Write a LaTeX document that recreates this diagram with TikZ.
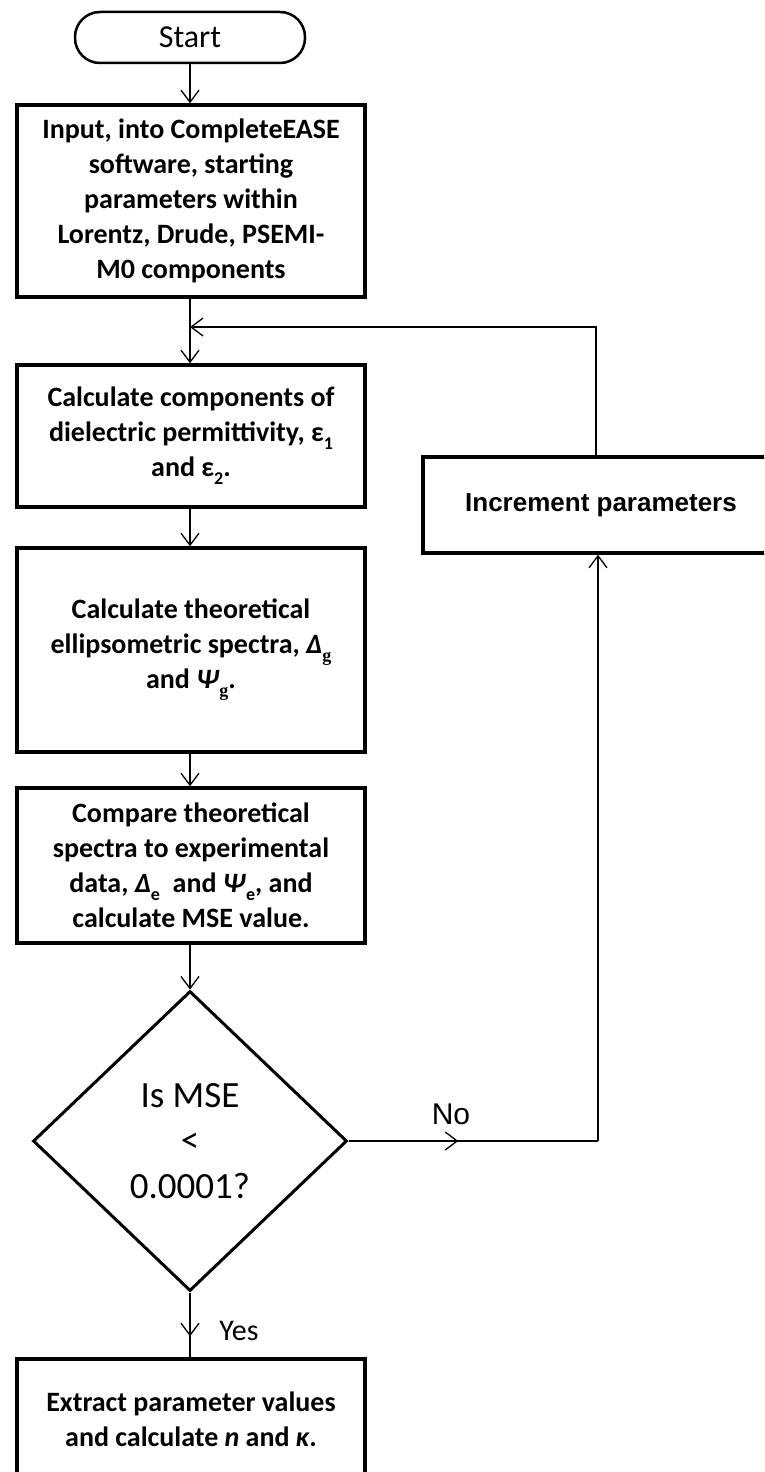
\documentclass[tikz,border=0pt]{standalone}
\usepackage{fontspec}
\setmainfont{Carlito}
\newfontfamily\arialf{Liberation Sans}
\newfontfamily\serifb{Liberation Serif}
\usetikzlibrary{arrows.meta,shapes.geometric,decorations.markings}
\newcommand{\lowsub}[1]{\raisebox{-0.28em}{\fontsize{18}{18}\selectfont #1}}
\newcommand{\gsub}{\lowsub{\serifb\bfseries g}}
\begin{document}
\begin{tikzpicture}[x=1pt,y=-1pt,
  box/.style={draw, line width=3.5pt, minimum width=348pt, align=center, inner sep=0pt,
    font=\fontsize{28}{35}\selectfont\bfseries},
  conn/.style={line width=1.3pt},
  arr/.style={conn, -{Straight Barb[length=12pt,width=18pt,line width=1.3pt]}},
  midarr/.style={conn, postaction={decorate}, decoration={markings,
    mark=at position #1 with {\arrow{Straight Barb[length=12pt,width=18pt,line width=1.3pt]}}}}
]
\path[use as bounding box, fill=white] (0,0) rectangle (764,1472);
\clip (0,0) rectangle (764,1472);

\node[draw, line width=2.5pt, rounded corners=25pt, minimum width=230pt, minimum height=51pt,
  font=\fontsize{32}{32}\selectfont] (start) at (190,37.5) {Start};

\node[box, minimum height=192pt] (b1) at (191,201)
  {Input, into CompleteEASE\\ software, starting\\ parameters within\\ Lorentz, Drude, PSEMI-\\ M0 components};

\node[box, minimum height=142pt] (b2) at (191,436)
  {Calculate components of\\ dielectric permittivity, ε\lowsub{1}\\ and ε\lowsub{2}.};

\node[box, minimum height=204pt] (b3) at (191,650)
  {Calculate theoretical\\ ellipsometric spectra, \textit{Δ}\gsub\\ and \textit{Ψ}\gsub.};

\node[box, minimum height=155pt] (b4) at (191,865.5)
  {Compare theoretical\\ spectra to experimental\\ data, \textit{Δ}\lowsub{e}\ \ and \textit{Ψ}\lowsub{e}, and\\ calculate MSE value.};

\node[diamond, draw, line width=3pt, minimum width=314pt, minimum height=300pt, aspect=1.047,
  inner sep=0pt, align=center, font=\fontsize{37}{45.5}\selectfont] (dec) at (190,1141)
  {Is MSE\\ <\\ 0.0001?};

\node[box, minimum height=120pt] (b5) at (191,1419)
  {Extract parameter values\\ and calculate \textit{n} and \textit{κ}.};

\node[draw, line width=3.5pt, minimum width=356pt, minimum height=96pt,
  font=\arialf\bfseries\fontsize{26}{30}\selectfont] (inc) at (601,505) {Increment parameters};

\coordinate (j) at (190,327);
\coordinate (tr) at (596,327);
\coordinate (nc) at (598,1141);

\draw[arr] (start.south) -- (start.south |- b1.north);
\draw[arr] (b1.south -| start.south) -- (start.south |- b2.north);
\draw[arr] (b2.south -| start.south) -- (start.south |- b3.north);
\draw[arr] (b3.south -| start.south) -- (start.south |- b4.north);
\draw[arr] (b4.south -| dec.north) -- (dec.north);
\draw[arr] (inc.north -| tr) -- (tr) -- (j);
\draw[midarr=0.44] (dec.east) -- (nc);
\draw[arr] (nc) -- (inc.south -| nc);
\draw[midarr=0.676] (dec.south) -- (dec.south |- b5.north);

\node[font=\arialf\fontsize{30}{30}\selectfont] (no) at (451,1114) {No};
\node[font=\fontsize{30}{30}\selectfont] (yes) at (239,1331) {Yes};
\end{tikzpicture}
\end{document}
